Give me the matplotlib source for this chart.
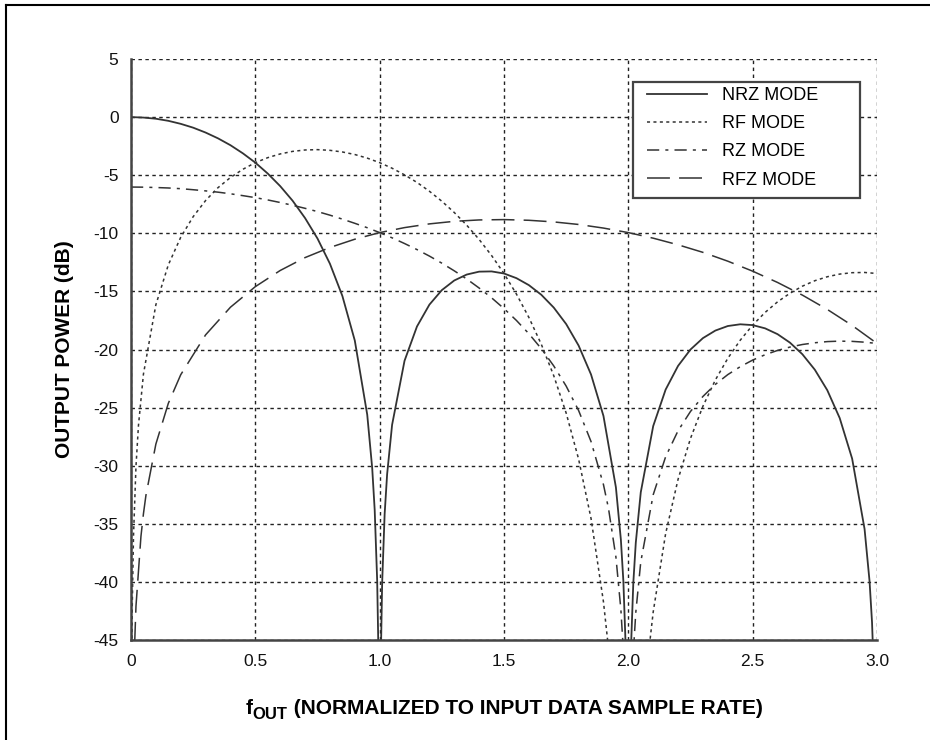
import matplotlib
matplotlib.use("Agg")
import matplotlib.pyplot as plt
from matplotlib.lines import Line2D
from matplotlib.patches import Rectangle

plt.rcParams['font.family'] = ['Liberation Sans', 'DejaVu Sans']

# ---- data ----
nrz_x = [0, 0.05, 0.10, 0.15, 0.20, 0.25, 0.30, 0.35, 0.40, 0.45, 0.50, 0.55, 0.60, 0.65, 0.70,
         0.75, 0.80, 0.85, 0.90, 0.95, 0.97, 0.98, 0.99, 0.995, 1.0, 1.005, 1.01, 1.02, 1.03,
         1.05, 1.10, 1.15, 1.20, 1.25, 1.30, 1.35, 1.40, 1.45, 1.50, 1.55, 1.60, 1.65, 1.70,
         1.75, 1.80, 1.85, 1.90, 1.95, 1.97, 1.98, 1.99, 2.0, 2.01, 2.02, 2.03, 2.05, 2.10,
         2.15, 2.20, 2.25, 2.30, 2.35, 2.40, 2.45, 2.50, 2.55, 2.60, 2.65, 2.70, 2.75, 2.80,
         2.85, 2.90, 2.95, 2.97, 2.98, 2.99, 3.0]
nrz_db = [0.0, -0.04, -0.14, -0.32, -0.58, -0.91, -1.33, -1.83, -2.42, -3.12, -3.92, -4.86,
          -5.94, -7.20, -8.69, -10.45, -12.62, -15.39, -19.23, -25.61, -30.21, -33.81, -39.91,
          -45.98, -80.0, -46.06, -40.09, -34.16, -30.73, -26.48, -20.97, -18.02, -16.14, -14.89,
          -14.06, -13.55, -13.30, -13.28, -13.46, -13.86, -14.46, -15.29, -16.39, -17.81,
          -19.66, -22.15, -25.72, -31.86, -36.36, -39.92, -45.98, -80.0, -46.07, -40.09,
          -36.62, -32.29, -26.59, -23.45, -21.41, -20.00, -19.02, -18.37, -17.98, -17.83,
          -17.90, -18.18, -18.68, -19.41, -20.41, -21.74, -23.50, -25.90, -29.39, -35.45,
          -39.93, -43.47, -49.51, -80.0]

rf_x = [0.0, 0.002, 0.005, 0.01, 0.02, 0.03, 0.05, 0.10, 0.15, 0.20, 0.25, 0.30, 0.35, 0.40,
        0.45, 0.50, 0.55, 0.60, 0.65, 0.70, 0.75, 0.80, 0.85, 0.90, 0.95, 1.00, 1.05, 1.10,
        1.15, 1.20, 1.25, 1.30, 1.35, 1.40, 1.45, 1.50, 1.55, 1.60, 1.65, 1.70, 1.75, 1.80,
        1.85, 1.90, 1.92, 1.95, 2.0, 2.05, 2.08, 2.10, 2.15, 2.20, 2.25, 2.30, 2.35, 2.40,
        2.45, 2.50, 2.55, 2.60, 2.65, 2.70, 2.75, 2.80, 2.85, 2.90, 2.95, 3.00]
rf_db = [-80.0, -50.06, -42.10, -36.08, -30.06, -26.54, -22.12, -16.15, -12.72, -10.34, -8.57,
         -7.18, -6.07, -5.20, -4.49, -3.92, -3.49, -3.17, -2.95, -2.83, -2.80, -2.86, -3.00,
         -3.22, -3.53, -3.92, -4.40, -4.97, -5.62, -6.38, -7.24, -8.21, -9.30, -10.53, -11.91,
         -13.46, -15.23, -17.24, -19.55, -22.25, -25.47, -29.43, -34.54, -41.72, -45.67,
         -53.94, -80.0, -54.37, -46.36, -42.59, -35.84, -31.17, -27.65, -24.88, -22.62,
         -20.76, -19.20, -17.90, -16.81, -15.90, -15.16, -14.55, -14.08, -13.74, -13.51,
         -13.39, -13.37, -13.46]

rz_x = [0, 0.05, 0.10, 0.15, 0.20, 0.25, 0.30, 0.35, 0.40, 0.45, 0.50, 0.55, 0.60, 0.65, 0.70,
        0.75, 0.80, 0.85, 0.90, 0.95, 1.00, 1.05, 1.10, 1.15, 1.20, 1.25, 1.30, 1.35, 1.40,
        1.45, 1.50, 1.55, 1.60, 1.65, 1.70, 1.75, 1.80, 1.85, 1.90, 1.92, 1.95, 1.97, 1.98,
        1.99, 2.0, 2.01, 2.02, 2.03, 2.05, 2.10, 2.15, 2.20, 2.25, 2.30, 2.35, 2.40, 2.45,
        2.50, 2.55, 2.60, 2.65, 2.70, 2.75, 2.80, 2.85, 2.90, 2.95, 3.00]
rz_db = [-6.02, -6.03, -6.06, -6.10, -6.16, -6.25, -6.35, -6.46, -6.60, -6.76, -6.93, -7.13,
         -7.35, -7.59, -7.85, -8.13, -8.44, -8.78, -9.14, -9.52, -9.94, -10.39, -10.88,
         -11.40, -11.96, -12.57, -13.23, -13.93, -14.71, -15.55, -16.48, -17.50, -18.64,
         -19.93, -21.41, -23.15, -25.25, -27.92, -31.63, -33.65, -37.85, -42.37, -45.93,
         -52.0, -80.0, -52.08, -46.11, -42.63, -38.28, -32.50, -29.23, -26.99, -25.33,
         -24.04, -23.00, -22.16, -21.48, -20.91, -20.45, -20.08, -19.79, -19.57, -19.42,
         -19.32, -19.28, -19.30, -19.37, -19.48]

rfz_x = [0.0, 0.01, 0.02, 0.04, 0.05, 0.06, 0.10, 0.15, 0.20, 0.30, 0.40, 0.50, 0.60, 0.70,
         0.80, 0.90, 1.00, 1.10, 1.20, 1.30, 1.40, 1.50, 1.60, 1.70, 1.80, 1.90, 2.00, 2.10,
         2.20, 2.30, 2.40, 2.50, 2.60, 2.70, 2.80, 2.90, 3.00]
rfz_db = [-80.0, -48.12, -42.10, -36.08, -34.14, -32.56, -28.14, -24.64, -22.17, -18.74,
          -16.36, -14.59, -13.20, -12.09, -11.22, -10.51, -9.94, -9.51, -9.19, -8.97, -8.85,
          -8.82, -8.88, -9.02, -9.24, -9.55, -9.94, -10.42, -10.99, -11.64, -12.40, -13.26,
          -14.23, -15.32, -16.55, -17.93, -19.48]

series_labels = ["NRZ MODE", "RF MODE", "RZ MODE", "RFZ MODE"]
x_ticks = [0, 0.5, 1.0, 1.5, 2.0, 2.5, 3.0]
x_ticklabels = ["0", "0.5", "1.0", "1.5", "2.0", "2.5", "3.0"]
y_ticks = [5, 0, -5, -10, -15, -20, -25, -30, -35, -40, -45]

W, H = 930, 740

# ---- figure ----
fig = plt.figure(figsize=(W / 100, H / 100), dpi=100)
ax_l, ax_r, ax_t, ax_b = 131, 877, 59, 640
ax = fig.add_axes([ax_l / W, 1 - ax_b / H, (ax_r - ax_l) / W, (ax_b - ax_t) / H])

col = "#333333"
ax.plot(nrz_x, nrz_db, color=col, lw=1.3, linestyle='-', label=series_labels[0])
ax.plot(rf_x, rf_db, color=col, lw=1.1, linestyle=(0, (2.0, 2.2)), label=series_labels[1])
ax.plot(rz_x, rz_db, color=col, lw=1.1, linestyle=(0, (8, 4, 2, 4)), label=series_labels[2])
ax.plot(rfz_x, rfz_db, color=col, lw=1.1, linestyle=(0, (15, 6)), label=series_labels[3])

ax.set_xlim(0, 3.0)
ax.set_ylim(-45, 5)
ax.set_xticks(x_ticks)
ax.set_xticklabels(x_ticklabels)
ax.set_yticks(y_ticks)
ax.set_yticklabels([str(v) for v in y_ticks])
ax.tick_params(axis='both', length=0, labelsize=12.5, colors='#111111')
ax.tick_params(axis='x', pad=10)
ax.tick_params(axis='y', pad=9)

ax.grid(True, color='#222222', linestyle=(0, (2.5, 2.5)), linewidth=1.0)
ax.set_axisbelow(True)
for s in ['top', 'right']:
    ax.spines[s].set_visible(False)
for s in ['left', 'bottom']:
    ax.spines[s].set_color('#444444')
    ax.spines[s].set_linewidth(1.8)

ax.set_ylabel("OUTPUT POWER (dB)", fontsize=15, fontweight='bold', labelpad=14)

# legend: frame drawn as a box, entries placed inside
box_l, box_r, box_t, box_b = 633, 860, 82, 198
to_ax = lambda px, py: ((px - ax_l) / (ax_r - ax_l), (ax_b - py) / (ax_b - ax_t))
bx0, by0 = to_ax(box_l, box_b)
bx1, by1 = to_ax(box_r, box_t)
ax.add_patch(Rectangle((bx0, by0), bx1 - bx0, by1 - by0, transform=ax.transAxes,
                       facecolor='white', edgecolor='#444444', lw=1.6, zorder=4.5))
lx, ly = to_ax(647, 87)
leg = ax.legend(loc='upper left', bbox_to_anchor=(lx, ly), fontsize=13,
                frameon=False, handlelength=3.3, handletextpad=0.85, borderpad=0.0,
                labelspacing=0.62, borderaxespad=0.0)
leg.set_zorder(5)

# x label with a large subscript
fs = 15
y_base = 1 - 714 / H
t1 = fig.text(0, y_base, "f", fontsize=fs, fontweight='bold', va='baseline')
t2 = fig.text(0, y_base - 5 / H, "OUT", fontsize=fs * 0.8, fontweight='bold', va='baseline')
t3 = fig.text(0, y_base, " (NORMALIZED TO INPUT DATA SAMPLE RATE)", fontsize=fs,
              fontweight='bold', va='baseline')
fig.canvas.draw()
r = fig.canvas.get_renderer()
w1 = t1.get_window_extent(r).width
w2 = t2.get_window_extent(r).width
w3 = t3.get_window_extent(r).width
x0 = (ax_l + ax_r) / 2 - (w1 + w2 + w3) / 2
t1.set_x(x0 / W)
t2.set_x((x0 + w1) / W)
t3.set_x((x0 + w1 + w2) / W)

# figure border (top and left)
fig.add_artist(Line2D([6 / W, 1.0], [1 - 5 / H, 1 - 5 / H], color='black', lw=1.5,
                      transform=fig.transFigure))
fig.add_artist(Line2D([6 / W, 6 / W], [0.0, 1 - 5 / H], color='black', lw=1.5,
                      transform=fig.transFigure))

fig.savefig("out.png", dpi=100)
